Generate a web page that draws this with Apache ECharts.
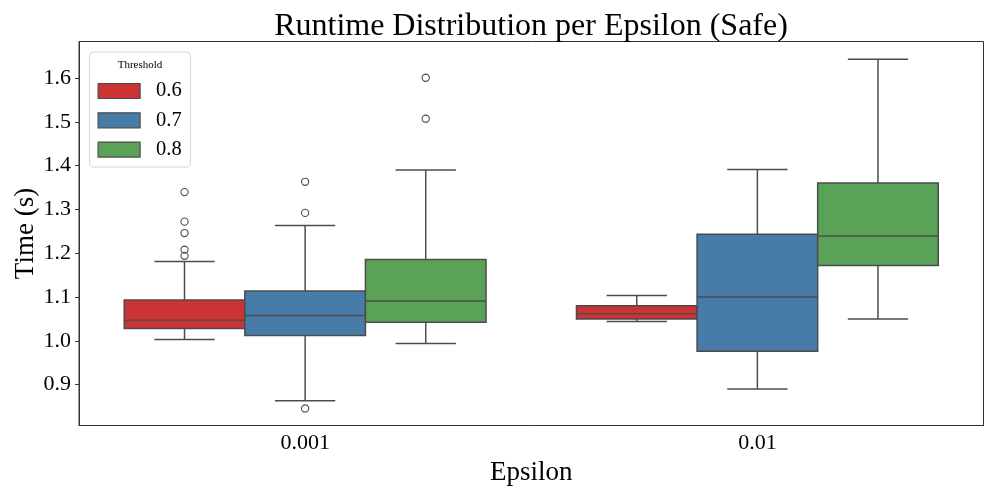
<!DOCTYPE html>
<html>
<head>
<meta charset="utf-8">
<script src="https://cdn.jsdelivr.net/npm/echarts@6/dist/echarts.min.js"></script>
<style>html,body{margin:0;padding:0;background:#fff}#c{width:996px;height:498px}</style>
</head>
<body>
<div id="c"></div>
<script>
// ---- data ----
const categories = ['0.001', '0.01'];
const thresholds = ['0.6', '0.7', '0.8'];
const colors = ['#cb3335', '#477ca8', '#59a257'];
// [categoryIndex, lowerWhisker, q1, median, q3, upperWhisker]
const box06 = [[0, 1.003, 1.028, 1.047, 1.093, 1.181], [1, 1.044, 1.050, 1.062, 1.080, 1.1035]];
const box07 = [[0, 0.863, 1.012, 1.058, 1.1135, 1.263], [1, 0.890, 0.976, 1.100, 1.2435, 1.391]];
const box08 = [[0, 0.994, 1.0425, 1.091, 1.1855, 1.390], [1, 1.050, 1.172, 1.239, 1.360, 1.643]];
// [categoryIndex, value]
const out06 = [[0, 1.3395], [0, 1.272], [0, 1.246], [0, 1.208], [0, 1.194]];
const out07 = [[0, 1.363], [0, 1.292], [0, 0.8455]];
const out08 = [[0, 1.6005], [0, 1.507]];
const yTicks = [0.9, 1.0, 1.1, 1.2, 1.3, 1.4, 1.5, 1.6];

const FONT = 'Liberation Serif';
const EDGE = '#4c4c4c';
const nGroups = thresholds.length;

function boxRender(idx) {
  return function (params, api) {
    const cat = api.value(0);
    const band = api.size([1, 0])[0];
    const w = band * 0.8 / nGroups;
    const cx = api.coord([cat, 0])[0] + (idx - (nGroups - 1) / 2) * w;
    const y = i => api.coord([cat, api.value(i)])[1];
    const yLo = y(1), yQ1 = y(2), yMed = y(3), yQ3 = y(4), yHi = y(5);
    const ls = { stroke: EDGE, lineWidth: 1.5 };
    return {
      type: 'group',
      children: [
        { type: 'line', shape: { x1: cx, y1: yQ1, x2: cx, y2: yLo }, style: ls },
        { type: 'line', shape: { x1: cx, y1: yQ3, x2: cx, y2: yHi }, style: ls },
        { type: 'line', shape: { x1: cx - w / 4, y1: yLo, x2: cx + w / 4, y2: yLo }, style: ls },
        { type: 'line', shape: { x1: cx - w / 4, y1: yHi, x2: cx + w / 4, y2: yHi }, style: ls },
        { type: 'rect', shape: { x: cx - w / 2, y: yQ3, width: w, height: yQ1 - yQ3 },
          style: { fill: colors[idx], stroke: EDGE, lineWidth: 1.5 } },
        { type: 'line', shape: { x1: cx - w / 2, y1: yMed, x2: cx + w / 2, y2: yMed }, style: ls }
      ]
    };
  };
}
function outRender(idx) {
  return function (params, api) {
    const cat = api.value(0);
    const band = api.size([1, 0])[0];
    const w = band * 0.8 / nGroups;
    const p = api.coord([cat, api.value(1)]);
    const cx = p[0] + (idx - (nGroups - 1) / 2) * w;
    return { type: 'circle', shape: { cx: cx, cy: p[1], r: 3.6 },
      style: { fill: 'transparent', stroke: EDGE, lineWidth: 1.1 } };
  };
}

const boxData = [box06, box07, box08];
const outData = [out06, out07, out08];
const series = [];
thresholds.forEach((t, i) => {
  series.push({ name: t, type: 'custom', renderItem: boxRender(i), data: boxData[i],
    itemStyle: { color: colors[i] }, encode: { x: 0, y: [1, 2, 3, 4, 5] }, z: 2 });
});
thresholds.forEach((t, i) => {
  series.push({ name: 'outliers ' + t, type: 'custom', renderItem: outRender(i), data: outData[i],
    itemStyle: { color: EDGE }, encode: { x: 0, y: 1 }, z: 3 });
});

const chart = echarts.init(document.getElementById('c'), null, { renderer: 'canvas' });
chart.setOption({
  animation: false,
  backgroundColor: '#fff',
  title: {
    text: 'Runtime Distribution per Epsilon (Safe)',
    left: 526, top: 6, textAlign: 'center',
    textStyle: { fontFamily: FONT, fontSize: 32, fontWeight: 'normal', color: '#000' }
  },
  grid: { left: 79, right: 12.5, top: 41.5, bottom: 72.5, show: true, borderColor: '#333', borderWidth: 1,
    backgroundColor: '#fff', containLabel: false, outerBoundsMode: 'none' },
  xAxis: {
    type: 'category', data: categories, boundaryGap: true,
    name: 'Epsilon', nameLocation: 'middle', nameGap: 34,
    nameTextStyle: { fontFamily: FONT, fontSize: 27, color: '#000' },
    axisLine: { lineStyle: { color: '#333', width: 1 } },
    axisTick: { alignWithLabel: true, length: 4, lineStyle: { color: '#333' } },
    axisLabel: { fontFamily: FONT, fontSize: 22, color: '#000', margin: 7 },
    splitLine: { show: false }
  },
  yAxis: {
    type: 'value', min: 0.8066, max: 1.6833,
    name: 'Time (s)', nameLocation: 'middle', nameGap: 40, nameRotate: 90, nameMoveOverlap: false,
    nameTextStyle: { fontFamily: FONT, fontSize: 27, color: '#000' },
    axisLine: { show: true, lineStyle: { color: '#333', width: 1 } },
    axisTick: { show: true, length: 4, customValues: yTicks, lineStyle: { color: '#333' } },
    axisLabel: { fontFamily: FONT, fontSize: 22, color: '#000', margin: 8, customValues: yTicks,
      formatter: v => v.toFixed(1) },
    splitLine: { show: false }
  },
  legend: {
    data: thresholds.map(t => ({ name: t, icon: 'rect' })),
    orient: 'vertical', left: 92.5, top: 75.5,
    itemWidth: 42, itemHeight: 15, itemGap: 8.3,
    itemStyle: { borderColor: EDGE, borderWidth: 1.2 },
    textStyle: { fontFamily: FONT, fontSize: 20.5, color: '#000', lineHeight: 20, padding: [0, 0, 0, 11] },
    selectedMode: false, z: 10
  },
  graphic: [
    { type: 'rect', x: 89.5, y: 52, z: 5, shape: { width: 101, height: 115, r: 4 },
      style: { fill: 'rgba(255,255,255,0.8)', stroke: '#d8d8d8', lineWidth: 1 } },
    { type: 'text', x: 140, y: 65, z: 6, style: { text: 'Threshold', align: 'center', verticalAlign: 'middle',
        fontFamily: FONT, fontSize: 11, fill: '#000' } }
  ],
  series: series
});
</script>
</body>
</html>
